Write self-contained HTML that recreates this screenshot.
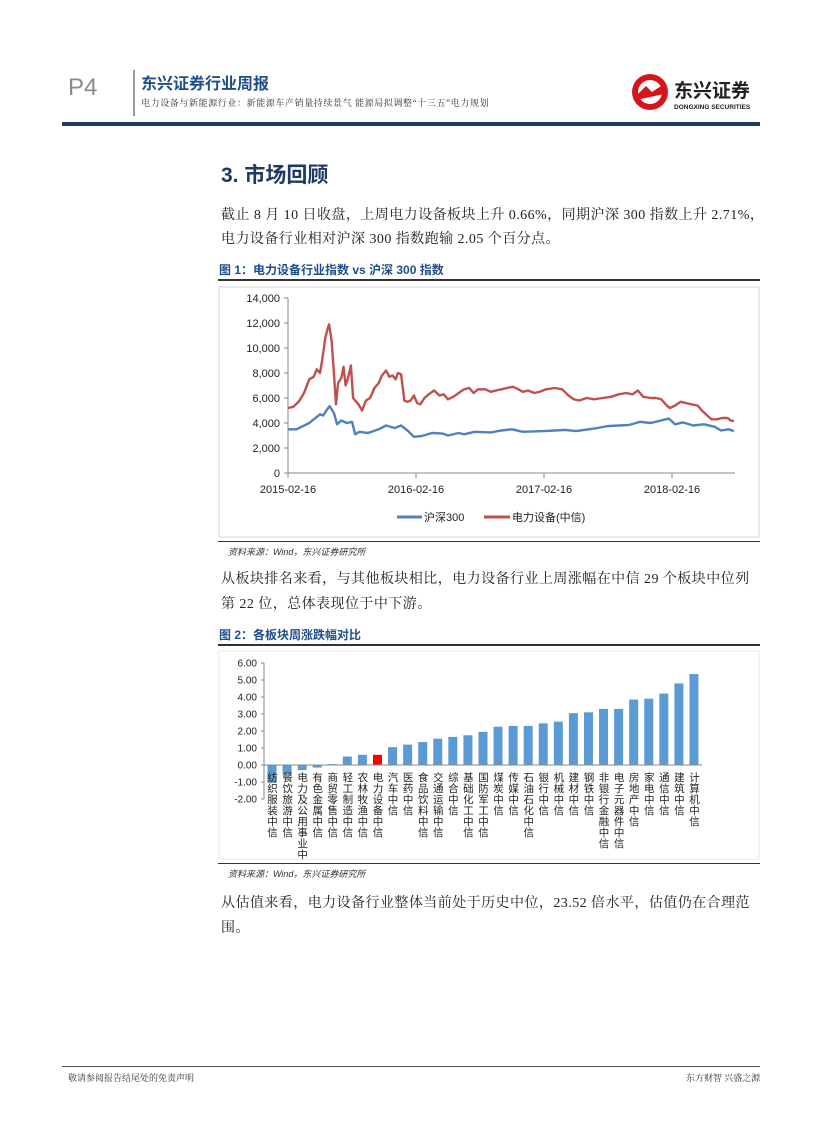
<!DOCTYPE html>
<html><head><meta charset="utf-8">
<style>
body{margin:0;width:827px;height:1122px;background:#fff;position:relative;overflow:hidden;font-family:"Liberation Sans","Noto Sans CJK SC",sans-serif;}
.a{position:absolute;white-space:nowrap;}
.p{font-family:"Liberation Serif","Noto Serif CJK SC",serif;font-size:14px;color:#222;letter-spacing:0.45px;}
.ft{font-size:12px;font-weight:bold;color:#1f4e8c;}
.src{font-size:9px;font-style:italic;color:#333;}
.hl{position:absolute;height:2px;background:#333;}
</style></head><body>
<div class="a" style="left:68px;top:74px;font-size:24px;color:#8a8a8a;">P4</div>
<div class="a" style="left:133px;top:70px;width:2px;height:46px;background:#999;"></div>
<div class="a" style="left:141px;top:70px;font-size:16px;font-weight:bold;color:#1f4e8c;">东兴证券行业周报</div>
<div class="a" style="left:141px;top:96px;font-size:9px;color:#333;font-family:'Liberation Serif','Noto Serif CJK SC',serif;letter-spacing:0.6px;">电力设备与新能源行业：新能源车产销量持续景气 能源局拟调整“十三五”电力规划</div>
<div class="a" style="left:630px;top:72px;width:130px;height:42px;">
<svg width="130" height="42"><circle cx="20" cy="20" r="18" fill="#d7141a"/><circle cx="20" cy="20" r="12" fill="#fff"/><path d="M6 24 L16 14 L22 20 L34 12 L34 22 L6 28Z" fill="#d7141a"/>
<text x="44" y="25" font-size="19" font-weight="bold" fill="#222" font-family="Liberation Sans,Noto Sans CJK SC,sans-serif">东兴证券</text>
<text x="44" y="37" font-size="6.5" font-weight="bold" fill="#222" font-family="Liberation Sans,sans-serif">DONGXING SECURITIES</text></svg></div>
<div class="a" style="left:62px;top:122px;width:698px;height:4px;background:#1f3864;"></div>

<div class="a" style="left:221px;top:159px;font-size:21px;font-weight:bold;color:#1f3864;">3. 市场回顾</div>
<div class="a p" style="left:221px;top:204px;">截止 8 月 10 日收盘，上周电力设备板块上升 0.66%，同期沪深 300 指数上升 2.71%，</div>
<div class="a p" style="left:221px;top:228px;">电力设备行业相对沪深 300 指数跑输 2.05 个百分点。</div>

<div class="a ft" style="left:219px;top:261px;">图 1：电力设备行业指数 vs 沪深 300 指数</div>
<div class="hl" style="left:218px;top:279px;width:542px;"></div>
<svg class="a" id="lc" style="left:0;top:0;" width="827" height="560"></svg>
<div class="hl" style="left:218px;top:541px;width:542px;height:1px;"></div>
<div class="a src" style="left:228px;top:545px;">资料来源：Wind，东兴证券研究所</div>

<div class="a p" style="left:221px;top:568px;">从板块排名来看，与其他板块相比，电力设备行业上周涨幅在中信 29 个板块中位列</div>
<div class="a p" style="left:221px;top:593px;">第 22 位，总体表现位于中下游。</div>

<div class="a ft" style="left:219px;top:626px;">图 2：各板块周涨跌幅对比</div>
<div class="hl" style="left:218px;top:644px;width:542px;"></div>
<svg class="a" id="bc" style="left:0;top:0;" width="827" height="870"></svg>
<div class="hl" style="left:218px;top:863px;width:542px;height:1px;"></div>
<div class="a src" style="left:228px;top:867px;">资料来源：Wind，东兴证券研究所</div>

<div class="a p" style="left:221px;top:892px;">从估值来看，电力设备行业整体当前处于历史中位，23.52 倍水平，估值仍在合理范</div>
<div class="a p" style="left:221px;top:917px;">围。</div>

<div class="hl" style="left:62px;top:1066px;width:698px;height:1px;background:#555;"></div>
<div class="a" style="left:68px;top:1071px;font-size:9px;color:#333;font-family:'Liberation Serif','Noto Serif CJK SC',serif;">敬请参阅报告结尾处的免责声明</div>
<div class="a" style="left:686px;top:1071px;font-size:9px;color:#333;font-family:'Liberation Serif','Noto Serif CJK SC',serif;">东方财智 兴盛之源</div>

<script>
// ---- line chart data (months since 2015-02-16, index value) ----
const redMonths=[0,0.5,1,1.5,2,2.4,2.7,3,3.2,3.5,3.7,3.85,4.1,4.3,4.5,4.7,5.0,5.2,5.4,5.6,5.9,6.1,6.3,6.6,6.95,7.3,7.7,8.1,8.5,8.8,9.2,9.5,9.8,10.1,10.3,10.6,10.9,11.2,11.5,11.8,12.1,12.4,12.8,13.2,13.7,14.2,14.6,15,15.5,16,16.5,17,17.4,17.8,18.5,19,19.5,20,20.5,21.1,21.6,22,22.5,23.1,23.6,24.2,25,25.7,26.3,26.8,27.3,28,28.7,29.5,30.3,31,31.7,32.3,32.8,33.3,34,34.5,35,35.5,35.8,36.3,36.8,37.3,37.8,38.4,38.8,39.3,39.7,40.2,40.7,41.2,41.5,41.8];
const redValues=[5200,5300,5700,6400,7500,7700,8300,8000,9000,10800,11500,11900,10500,8000,5500,7200,7600,8500,7000,7500,8600,6000,5800,5500,5000,5800,6000,6800,7200,7800,8200,7700,7800,7500,8000,7900,5800,5700,5800,6200,5600,5500,6000,6300,6600,6200,6300,5900,6100,6400,6700,6800,6400,6700,6700,6500,6600,6700,6800,6900,6700,6500,6600,6400,6500,6700,6800,6700,6200,5900,5800,6000,5900,6000,6100,6300,6400,6300,6600,6100,6000,6000,5900,5400,5200,5400,5700,5600,5500,5400,5000,4600,4300,4300,4400,4400,4200,4150];
const blueMonths=[0,0.8,2,3,3.3,3.6,3.9,4.3,4.6,5,5.5,6,6.3,6.7,7.5,8.5,9.2,10,10.6,11.2,11.8,12.5,13.5,14.5,15,16,16.5,17.5,19,20,21,22,24,25,26,27,29,30,31,32,33,34,35.7,36.3,37,38,39,40,40.6,41.3,41.8];
const blueValues=[3500,3500,4000,4700,4600,5000,5350,4800,3900,4200,4000,4100,3100,3300,3200,3500,3800,3600,3800,3400,2900,2950,3200,3150,3000,3200,3100,3300,3250,3400,3500,3300,3350,3400,3450,3350,3600,3750,3800,3850,4100,4000,4350,3900,4050,3800,3900,3700,3400,3500,3350];
const yTicks=[0,2000,4000,6000,8000,10000,12000,14000];
const xTickMonths=[0,12,24,36];
const xTickLabels=["2015-02-16","2016-02-16","2017-02-16","2018-02-16"];
// ---- bar chart data ----
const sectors=["纺织服装中信","餐饮旅游中信","电力及公用事业中","有色金属中信","商贸零售中信","轻工制造中信","农林牧渔中信","电力设备中信","汽车中信","医药中信","食品饮料中信","交通运输中信","综合中信","基础化工中信","国防军工中信","煤炭中信","传媒中信","石油石化中信","银行中信","机械中信","建材中信","钢铁中信","非银行金融中信","电子元器件中信","房地产中信","家电中信","通信中信","建筑中信","计算机中信"];
const changes=[-1.05,-0.55,-0.3,-0.15,0.05,0.5,0.6,0.6,1.05,1.2,1.35,1.55,1.65,1.75,1.95,2.25,2.3,2.3,2.45,2.55,3.05,3.1,3.3,3.3,3.85,3.9,4.2,4.8,5.35];
const barTicks=[-2,-1,0,1,2,3,4,5,6];
const highlightSector="电力设备中信";

const NS="http://www.w3.org/2000/svg";
function mk(svg,tag,attrs,text){const e=document.createElementNS(NS,tag);for(const k in attrs)e.setAttribute(k,attrs[k]);if(text!==undefined)e.textContent=text;svg.appendChild(e);return e;}
const F='Liberation Sans, Noto Sans CJK SC, sans-serif';

// line chart
const lc=document.getElementById('lc');
const lx=m=>288+m*(128/12), ly=v=>473-v*(175/14000);
mk(lc,'rect',{x:219,y:287,width:540,height:250,fill:'none',stroke:'#ccc','stroke-width':0.8});
const lyAxis=mk(lc,'line',{x1:288,y1:298,x2:288,y2:473,stroke:'#888'});

const lxAxis=mk(lc,'line',{x1:288,y1:473,x2:735,y2:473,stroke:'#888'});

yTicks.forEach(v=>{mk(lc,'line',{x1:284,y1:ly(v),x2:288,y2:ly(v),stroke:'#888'});
 const t=mk(lc,'text',{x:280,y:ly(v)+4,'text-anchor':'end','font-size':11,fill:'#222','font-family':F},v.toLocaleString('en-US'));
 });
xTickMonths.forEach((m,i)=>{mk(lc,'line',{x1:lx(m),y1:473,x2:lx(m),y2:478,stroke:'#888'});
 const t=mk(lc,'text',{x:lx(m),y:493,'text-anchor':'middle','font-size':11,fill:'#222','font-family':F},xTickLabels[i]);
 });
function path(ms,vs){return ms.map((m,i)=>(i?'L':'M')+lx(m).toFixed(1)+' '+ly(vs[i]).toFixed(1)).join('');}
const rl=mk(lc,'path',{d:path(redMonths,redValues),fill:'none',stroke:'#c0504d','stroke-width':2.4,'stroke-linejoin':'round'});

const bl=mk(lc,'path',{d:path(blueMonths,blueValues),fill:'none',stroke:'#4f81bd','stroke-width':2.4,'stroke-linejoin':'round'});

mk(lc,'line',{x1:397,y1:517,x2:422,y2:517,stroke:'#4f81bd','stroke-width':3});
const lg1=mk(lc,'text',{x:424,y:521,'font-size':11,fill:'#222','font-family':F},'沪深300');

mk(lc,'line',{x1:484,y1:517,x2:510,y2:517,stroke:'#c0504d','stroke-width':3});
const lg2=mk(lc,'text',{x:512,y:521,'font-size':11,fill:'#222','font-family':F},'电力设备(中信)');


// bar chart
const bc=document.getElementById('bc');
const by=v=>765-v*17, step=15.07, bx=i=>272+i*step;
mk(bc,'rect',{x:219,y:651,width:540,height:208,fill:'none',stroke:'#e4e4e4','stroke-width':0.8});
const bAxis=mk(bc,'line',{x1:264,y1:by(6),x2:264,y2:by(-2),stroke:'#888'});

barTicks.forEach(v=>{mk(bc,'line',{x1:261,y1:by(v),x2:264,y2:by(v),stroke:'#888'});
 const t=mk(bc,'text',{x:257,y:by(v)+3.5,'text-anchor':'end','font-size':10,fill:'#222','font-family':F},v.toFixed(2));
 });
changes.forEach((v,i)=>{const y0=by(Math.max(v,0)),h=Math.abs(by(v)-by(0));
 const r=mk(bc,'rect',{x:bx(i)-4.5,y:y0,width:9,height:Math.max(h,0.6),fill:sectors[i]===highlightSector?'#ff0000':'#5b9bd5'});
 });
const bx0=mk(bc,'line',{x1:264,y1:by(0),x2:702,y2:by(0),stroke:'#888'});

sectors.forEach((s,i)=>{const t=mk(bc,'text',{x:bx(i),y:772,'font-size':10.5,fill:'#222','font-family':F,'writing-mode':'tb','glyph-orientation-vertical':0,'letter-spacing':0.5},s);
 });
</script>
</body></html>
